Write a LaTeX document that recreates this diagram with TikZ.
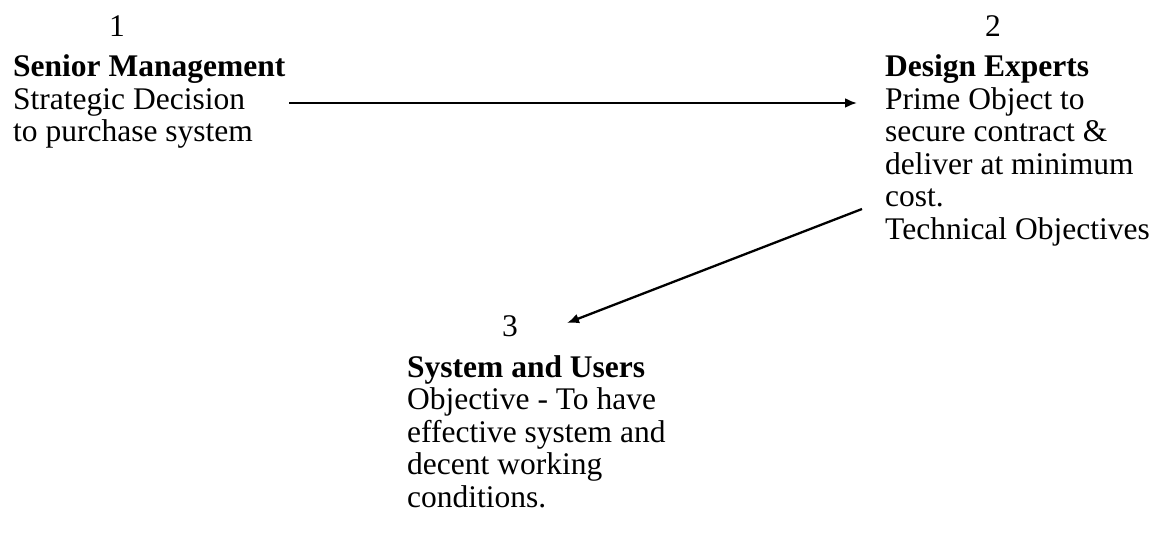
\documentclass[tikz,border=0pt]{standalone}
\usepackage{fontspec}
\setmainfont{Liberation Serif}
\usetikzlibrary{arrows.meta}
\begin{document}
\begin{tikzpicture}[x=1pt,y=-1pt,
  txt/.style={inner sep=0pt,anchor=base west,align=left,font=\fontsize{31.5}{32.5}\selectfont},
  num/.style={inner sep=0pt,anchor=base,font=\fontsize{31.5}{32.5}\selectfont},
  conn/.style={line width=2.3pt,-{Latex[length=12pt,width=10pt]}}]
\useasboundingbox (0,0) rectangle (1165,537);
% nodes are placed by the baseline of their last line
\node[num] (n1) at (117,37) {1};
\node[txt] (b1) at (13,142) {\textbf{Senior Management}\\Strategic Decision\\to purchase system};
\node[num] (n2) at (993,37) {2};
\node[txt] (b2) at (885,239.5) {\textbf{Design Experts}\\Prime Object to\\secure contract \&\\deliver at minimum\\cost.\\Technical Objectives};
\node[num] (n3) at (510,337) {3};
\node[txt] (b3) at (407,507) {\textbf{System and Users}\\Objective - To have\\effective system and\\decent working\\conditions.};
\coordinate (a1s) at (289,103);
\coordinate (a1e) at (857,103);
\coordinate (a2s) at (862,209);
\coordinate (a2e) at (567,323);
\draw[conn] (a1s) -- (a1e);
\draw[conn] (a2s) -- (a2e);
\end{tikzpicture}
\end{document}
